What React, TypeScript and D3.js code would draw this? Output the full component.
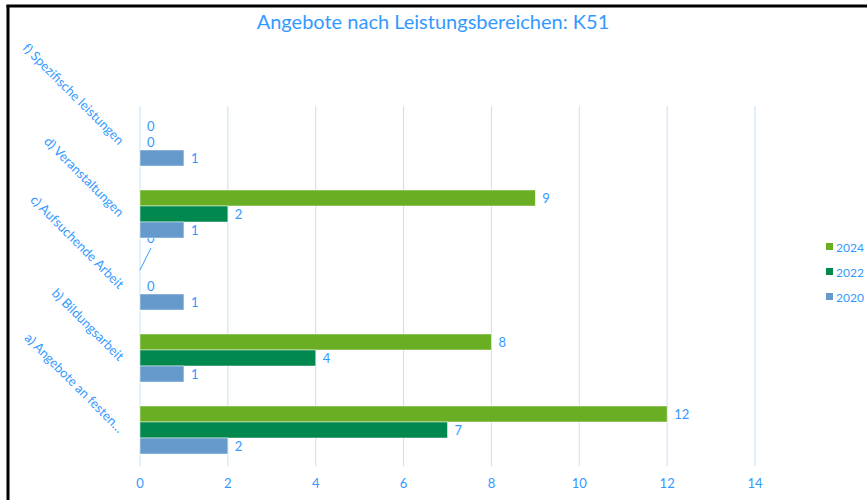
import React from 'react';
import * as d3 from 'd3';

const categories = [
  'a) Angebote an festen…',
  'b) Bildungsarbeit',
  'c) Aufsuchende Arbeit',
  'd) Veranstaltungen',
  'f) Spezifische leistungen',
];
const series = ['2024', '2022', '2020'];
const values2024 = [12, 8, 0, 9, 0];
const values2022 = [7, 4, 0, 2, 0];
const values2020 = [2, 1, 1, 1, 1];
const xTicks = [0, 2, 4, 6, 8, 10, 12, 14];

const colors: Record<string, string> = { '2024': '#6aaf23', '2022': '#00884f', '2020': '#6699cc' };
const textColor = '#3399ff';
const font = 'Lato, "Open Sans", sans-serif';

export default function App() {
  const width = 867;
  const height = 500;
  const margin = { top: 106, left: 140 };
  const innerH = 360;

  const x = d3.scaleLinear().domain([0, 14]).range([140, 755]);
  // top category first visually
  const y = d3
    .scaleBand<string>()
    .domain([...categories].reverse())
    .range([margin.top, margin.top + innerH])
    .paddingInner(1 / 3)
    .paddingOuter(1 / 6);
  const inner = d3.scaleBand<string>().domain(series).range([0, y.bandwidth()]);

  const seriesValues: Record<string, number[]> = {
    '2024': values2024,
    '2022': values2022,
    '2020': values2020,
  };

  const bars = categories.flatMap((c, i) =>
    series.map((s) => ({ cat: c, s, v: seriesValues[s][i] })),
  );

  return (
    <svg width={width} height={height} style={{ position: 'absolute', left: 0, top: 0 }}>
      <rect x={0} y={0} width={width} height={height} fill="#fff" />
      <line x1={8} x2={8} y1={5} y2={height} stroke="#000" strokeWidth={3} />
      <line x1={6.5} x2={width} y1={6} y2={6} stroke="#000" strokeWidth={3} />

      <text x={433} y={29} textAnchor="middle" fontFamily={font} fontSize={20} fill={textColor}>
        Angebote nach Leistungsbereichen: K51
      </text>

      {xTicks.map((t) => (
        <g key={t}>
          <line x1={x(t)} x2={x(t)} y1={margin.top} y2={margin.top + innerH} stroke="#c6e1f6" strokeWidth={1} />
          <text x={x(t)} y={488} textAnchor="middle" fontFamily={font} fontSize={13} fill={textColor}>
            {t}
          </text>
        </g>
      ))}

      {bars.map((d) => {
        const by = y(d.cat)! + inner(d.s)!;
        const bh = inner.bandwidth();
        const moved = d.cat === 'c) Aufsuchende Arbeit' && d.s === '2024';
        const lx = x(d.v) + 7;
        const ly = moved ? by + bh / 2 - 32 : by + bh / 2;
        return (
          <g key={d.cat + d.s}>
            {d.v > 0 && (
              <rect
                x={x(0)}
                y={by}
                width={x(d.v) - x(0)}
                height={bh}
                fill={colors[d.s]}
                stroke="#ffffff"
                strokeOpacity={0.6}
                strokeWidth={0.8}
              />
            )}
            {moved && (
              <line x1={x(0)} y1={by + bh / 2} x2={x(0) + 11} y2={ly + 10} stroke={textColor} strokeWidth={1} />
            )}
            <text
              x={lx}
              y={ly}
              dominantBaseline="central"
              fontFamily={font}
              fontSize={13}
              fill={textColor}
            >
              {d.v}
            </text>
          </g>
        );
      })}

      {categories.map((c) => {
        const cy = y(c)! + y.bandwidth() / 2;
        return (
          <text
            key={c}
            transform={`translate(122,${cy}) rotate(45)`}
            textAnchor="end"
            dominantBaseline="central"
            fontFamily={font}
            fontSize={13}
            fill={textColor}
          >
            {c}
          </text>
        );
      })}

      {series.map((s, i) => (
        <g key={s} transform={`translate(826,${247 + i * 25})`}>
          <rect x={0} y={-4} width={7} height={7} fill={colors[s]} />
          <text x={10} y={0} dominantBaseline="central" fontFamily={font} fontSize={12} fill={textColor}>
            {s}
          </text>
        </g>
      ))}
    </svg>
  );
}
